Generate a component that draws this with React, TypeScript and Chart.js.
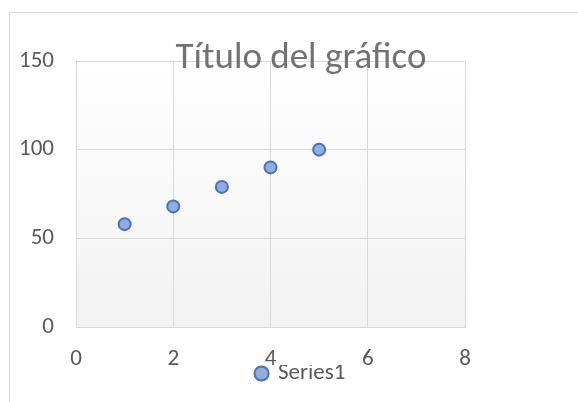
import React, { useEffect, useRef } from 'react';
import { Chart, registerables } from 'chart.js';

Chart.register(...registerables);

const chartTitle = 'Título del gráfico';
const seriesName = 'Series1';
const xValues = [1, 2, 3, 4, 5];
const yValues = [58, 68, 79, 90, 100];
const xMin = 0;
const xMax = 8;
const xStep = 2;
const yMin = 0;
const yMax = 150;
const yStep = 50;

const FONT = "Carlito, Calibri, 'Liberation Sans', Arial, sans-serif";
const TEXT = '#595959';
const GRID = '#d9d9d9';

const bgPlugin = {
  id: 'bgPlugin',
  beforeDraw(chart: any) {
    const { ctx, chartArea: a } = chart;
    ctx.save();
    ctx.fillStyle = '#ffffff';
    ctx.fillRect(0, 0, chart.width, chart.height);
    ctx.strokeStyle = GRID;
    ctx.lineWidth = 1;
    ctx.strokeRect(9.5, 12.5, chart.width + 20, chart.height + 20);
    const g = ctx.createLinearGradient(0, a.top, 0, a.bottom);
    g.addColorStop(0, '#ffffff');
    g.addColorStop(1, '#f2f2f2');
    ctx.fillStyle = g;
    ctx.fillRect(a.left, a.top, a.right - a.left, a.bottom - a.top);
    ctx.restore();
  },
};

export default function App() {
  const ref = useRef<HTMLCanvasElement | null>(null);

  useEffect(() => {
    if (!ref.current) return;
    const points = xValues.map((x, i) => ({ x, y: yValues[i] }));
    const chart = new Chart(ref.current, {
      type: 'scatter',
      data: {
        datasets: [
          {
            label: seriesName,
            data: points,
            backgroundColor: '#94abdc',
            borderColor: '#4472c4',
            borderWidth: 2,
            pointRadius: 6,
            pointHoverRadius: 6,
          },
        ],
      },
      plugins: [bgPlugin],
      options: {
        animation: false,
        responsive: false,
        devicePixelRatio: 1,
        layout: { padding: { left: 0, right: 0, top: 0, bottom: 7 } },
        plugins: {
          title: {
            display: true,
            text: chartTitle,
            color: '#727272',
            font: { family: FONT, size: 37, weight: 'normal', lineHeight: '4px' },
            padding: { top: 57, bottom: 0 },
          },
          legend: {
            display: true,
            position: 'bottom',
            labels: {
              usePointStyle: true,
              pointStyle: 'circle',
              boxWidth: 10,
              boxHeight: 10,
              padding: -3,
              color: TEXT,
              font: { family: FONT, size: 23 },
            },
          },
          tooltip: { enabled: false },
        },
        scales: {
          x: {
            type: 'linear',
            min: xMin,
            max: xMax,
            ticks: {
              stepSize: xStep,
              color: TEXT,
              padding: 18,
              font: { family: FONT, size: 23 },
            },
            grid: { color: GRID, lineWidth: 1, drawTicks: false },
            border: { color: GRID, width: 1 },
            afterFit: (s: any) => {
              s.height = 38;
            },
          },
          y: {
            type: 'linear',
            min: yMin,
            max: yMax,
            ticks: {
              stepSize: yStep,
              color: TEXT,
              padding: 22,
              font: { family: FONT, size: 23 },
            },
            grid: { color: GRID, lineWidth: 1, drawTicks: false },
            border: { color: GRID, width: 1 },
            afterFit: (s: any) => {
              s.width = 76;
            },
          },
          yRight: {
            type: 'linear',
            position: 'right',
            display: true,
            min: yMin,
            max: yMax,
            ticks: { display: false },
            grid: { display: false, drawTicks: false },
            border: { display: false },
            afterFit: (s: any) => {
              s.width = 137;
            },
          },
        },
      },
    } as any);
    return () => chart.destroy();
  }, []);

  return (
    <div
      style={{
        position: 'absolute',
        left: 0,
        top: 0,
        width: 578,
        height: 402,
        overflow: 'hidden',
        background: '#ffffff',
      }}
    >
      <canvas ref={ref} width={602} height={402} style={{ display: 'block' }} />
    </div>
  );
}
